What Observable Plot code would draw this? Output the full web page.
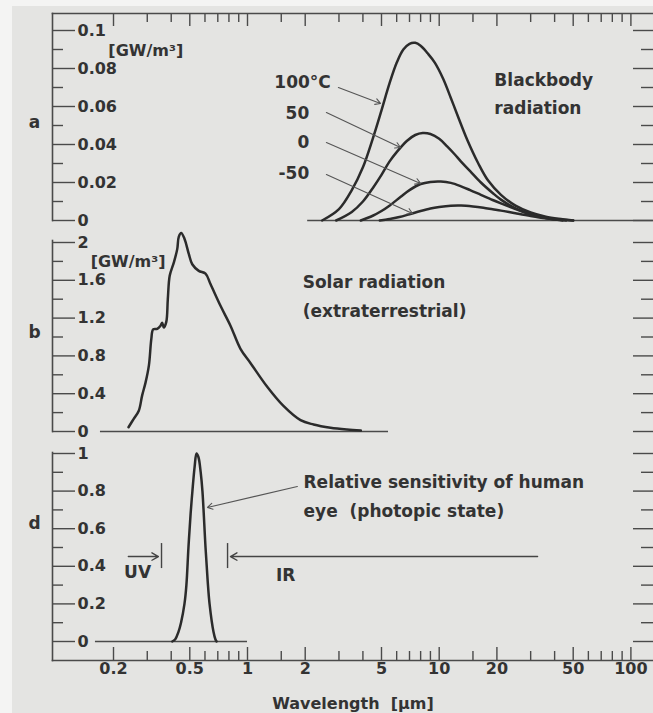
<!DOCTYPE html>
<html>
<head>
<meta charset="utf-8">
<script src="https://cdn.jsdelivr.net/npm/d3@7"></script>
<script src="https://cdn.jsdelivr.net/npm/@observablehq/plot@0.6"></script>
<style>
html, body { margin: 0; padding: 0; background: #f4f4f3; overflow: hidden; width: 653px; height: 713px; }
#fig { position: relative; width: 653px; height: 713px; overflow: hidden; }
#paper { position: absolute; left: 12px; top: 6px; right: 0; bottom: 0; background: #e4e4e2; }
#fig svg { position: absolute; left: 0; }
</style>
</head>
<body>
<div id="fig"><div id="paper"></div></div>
<script>
// ---------- axis ticks ----------
const xMajor = [0.2, 0.5, 1, 2, 5, 10, 20, 50, 100];
const xMajorLabels = ["0.2", "0.5", "1", "2", "5", "10", "20", "50", "100"];
const xMinor = [0.3, 0.4, 0.6, 0.7, 0.8, 0.9, 1.5, 3, 4, 6, 7, 8, 9, 15, 30, 40, 60, 70, 80, 90];

const yMajorA = [0, 0.02, 0.04, 0.06, 0.08, 0.1];
const yLabelsA = ["0", "0.02", "0.04", "0.06", "0.08", "0.1"];
const yMinorA = [0.01, 0.03, 0.05, 0.07, 0.09];

const yMajorB = [0, 0.4, 0.8, 1.2, 1.6, 2];
const yLabelsB = ["0", "0.4", "0.8", "1.2", "1.6", "2"];
const yMinorB = [0.2, 0.6, 1.0, 1.4, 1.8];

const yMajorD = [0, 0.2, 0.4, 0.6, 0.8, 1];
const yLabelsD = ["0", "0.2", "0.4", "0.6", "0.8", "1"];
const yMinorD = [0.1, 0.3, 0.5, 0.7, 0.9];

// ---------- panel a: blackbody radiation [GW/m3] ----------
const bb100X = [2.45, 3.0, 3.5, 4.0, 4.5, 5.0, 5.5, 6.0, 6.5, 7.0, 7.5, 8.0, 8.7, 9.5, 10.5, 11.5, 12.5, 14, 16, 18, 21, 25, 30, 36, 44, 50];
const bb100Y = [0, 0.006, 0.016, 0.028, 0.043, 0.058, 0.072, 0.083, 0.090, 0.093, 0.0935, 0.092, 0.088, 0.083, 0.0745, 0.0645, 0.055, 0.0425, 0.030, 0.021, 0.0135, 0.0078, 0.0042, 0.002, 0.0007, 0];
const bb50X = [2.9, 3.5, 4.0, 4.5, 5.0, 5.5, 6.0, 6.8, 7.5, 8.2, 9.0, 10, 11, 12, 13, 14.5, 16.5, 19, 21, 25, 30, 36, 44];
const bb50Y = [0, 0.0045, 0.010, 0.017, 0.024, 0.031, 0.036, 0.042, 0.045, 0.046, 0.0455, 0.043, 0.039, 0.035, 0.031, 0.026, 0.020, 0.0145, 0.011, 0.0064, 0.0033, 0.0013, 0];
const bb0X = [3.9, 4.5, 5.0, 5.5, 6.3, 7.0, 8.0, 9.0, 10.2, 11.5, 13, 14.5, 16.5, 19, 21, 25, 30, 36, 46];
const bb0Y = [0, 0.0025, 0.005, 0.0078, 0.0125, 0.016, 0.0192, 0.0203, 0.0205, 0.0198, 0.018, 0.016, 0.0135, 0.0108, 0.009, 0.006, 0.0032, 0.0013, 0];
const bbm50X = [4.9, 5.5, 6.2, 7.0, 8.0, 9.0, 10, 11.5, 13, 15, 17, 19, 21, 25, 30, 36, 42, 50];
const bbm50Y = [0, 0.0008, 0.0018, 0.0033, 0.0050, 0.0063, 0.0071, 0.0078, 0.0079, 0.0074, 0.0067, 0.0059, 0.0052, 0.0038, 0.0024, 0.0012, 0.0005, 0];

const tempLabelTop = ["100°C"];
const tempLabelTopX = [1.38], tempLabelTopY = [0.0726];
const tempLabels = ["50", "0", "-50"];
const tempLabelX = [2.1, 2.1, 2.1];
const tempLabelY = [0.0563, 0.041, 0.0247];
const tempArrowX1 = [2.98, 2.58, 2.58, 2.58];
const tempArrowY1 = [0.070, 0.0568, 0.041, 0.0242];
const tempArrowX2 = [4.94, 6.28, 7.99, 7.26];
const tempArrowY2 = [0.0616, 0.0384, 0.0195, 0.0037];
const titleA = ["Blackbody", "radiation"];
const titleAX = [19.4, 19.4];
const titleAY = [0.0737, 0.0589];
const unitAX = [0.188], unitAY = [0.0895];
const baseAX = [2.06, 131];

// ---------- panel b: solar radiation [GW/m3] ----------
const solarX = [0.2395, 0.255, 0.271, 0.282, 0.294, 0.306, 0.315, 0.322, 0.338, 0.352, 0.359, 0.366, 0.377, 0.384, 0.393, 0.413, 0.43, 0.438, 0.451, 0.469, 0.494, 0.515, 0.557, 0.604, 0.641, 0.723, 0.815, 0.919, 1.04, 1.27, 1.54, 1.89, 2.21, 2.71, 3.3, 3.9];
const solarY = [0.045, 0.134, 0.22, 0.38, 0.52, 0.70, 0.98, 1.08, 1.087, 1.12, 1.15, 1.10, 1.16, 1.40, 1.65, 1.79, 1.93, 2.06, 2.10, 2.04, 1.88, 1.77, 1.70, 1.67, 1.56, 1.33, 1.12, 0.875, 0.72, 0.47, 0.27, 0.12, 0.074, 0.039, 0.02, 0.01];
const titleB = ["Solar radiation", "(extraterrestrial)"];
const titleBX = [1.94, 1.94];
const titleBY = [1.577, 1.27];
const unitBX = [0.152], unitBY = [1.79];
const baseBX = [0.171, 5.44];

// ---------- panel d: relative eye sensitivity ----------
const eyeX = [0.405, 0.42, 0.436, 0.45, 0.469, 0.48, 0.492, 0.505, 0.516, 0.53, 0.542, 0.555, 0.57, 0.582, 0.604, 0.62, 0.634, 0.665, 0.68, 0.69];
const eyeY = [0, 0.012, 0.05, 0.1, 0.2, 0.3, 0.5, 0.68, 0.8, 0.93, 1.0, 0.98, 0.9, 0.8, 0.5, 0.32, 0.2, 0.05, 0.012, 0];
const titleD = ["Relative sensitivity of human", "eye  (photopic state)"];
const titleDX = [1.96, 1.96];
const titleDY = [0.846, 0.691];
const eyeArrowX = [1.82, 0.618], eyeArrowY = [0.824, 0.713];
const bandLabels = ["UV", "IR"];
const bandLabelX = [0.267, 1.58];
const bandLabelY = [0.367, 0.351];
const bandArrowX1 = [0.239, 32.6];
const bandArrowX2 = [0.343, 0.815];
const bandArrowY = [0.452, 0.452];
const bandBarX = [0.356, 0.787];
const bandBarY1 = [0.388, 0.388], bandBarY2 = [0.521, 0.521];
const baseDX = [0.161, 1.0];

const panelLetters = ["a", "b", "d"];
const panelLetterY = [0.0516, 1.05, 0.628];
const axisTitle = ["Wavelength  [µm]"];

// ---------- styles ----------
const ink = "#333333";
const axisInk = "#4a4a4a";
const curveInk = "#2b2b2b";
const FONT = "DejaVu Sans";
const W = 653, ML = 52, MR = 0, FW = W - ML - MR;
const X = {type: "log", domain: [0.1, 100], range: [55.3, 630.4], axis: null};
const common = {
  width: W, marginLeft: ML, marginRight: MR,
  style: {background: "transparent", overflow: "visible", fontFamily: FONT, fontWeight: "bold", fontSize: "16px", color: ink}
};
const tk = {stroke: axisInk, strokeWidth: 1.4};

function yFrame(major, minor, labels) {
  return [
    Plot.frame({anchor: "left", stroke: axisInk, strokeWidth: 1.6}),
    Plot.tickY(major, {y: d => d, insetRight: FW - 23, ...tk}),
    Plot.tickY(minor, {y: d => d, insetRight: FW - 11, ...tk}),
    Plot.tickY(major, {y: d => d, insetLeft: FW - 20, ...tk}),
    Plot.tickY(minor, {y: d => d, insetLeft: FW - 12, ...tk}),
    Plot.text(major, {y: d => d, text: (d, i) => labels[i], frameAnchor: "left", dx: 25, textAnchor: "start", fontSize: 16, fontWeight: "bold", fill: ink})
  ];
}
function letter(i) {
  return Plot.text([panelLetters[i]], {y: [panelLetterY[i]], text: d => d, frameAnchor: "left", dx: -18, textAnchor: "middle", fontSize: 17, fontWeight: "bold", fill: ink});
}
function curve(xs, ys) {
  return Plot.line(ys, {x: xs, y: ys, curve: "catmull-rom", stroke: curveInk, strokeWidth: 2.5});
}
function texts(t, xs, ys, anchor, size) {
  return Plot.text(t, {x: xs, y: ys, text: d => d, textAnchor: anchor, fontSize: size, fontWeight: "bold", fill: ink});
}
const fig = document.getElementById("fig");

// ---------- panel a ----------
const HA = 222, MTA = 13, MBA = 2, FHA = HA - MTA - MBA;
const plotA = Plot.plot({
  ...common, height: HA, marginTop: MTA, marginBottom: MBA,
  x: X, y: {domain: [0, 0.1], range: [220, 30], axis: null},
  marks: [
    Plot.frame({anchor: "top", stroke: axisInk, strokeWidth: 1.6}),
    Plot.tickX(xMajor, {x: d => d, insetBottom: FHA - 13, ...tk}),
    Plot.tickX(xMinor, {x: d => d, insetBottom: FHA - 9, ...tk}),
    ...yFrame(yMajorA, yMinorA, yLabelsA),
    letter(0),
    Plot.ruleY([0], {x1: baseAX[0], x2: baseAX[1], stroke: axisInk, strokeWidth: 1.6}),
    curve(bb100X, bb100Y), curve(bb50X, bb50Y), curve(bb0X, bb0Y), curve(bbm50X, bbm50Y),
    Plot.arrow(tempArrowX1, {x1: tempArrowX1, y1: tempArrowY1, x2: tempArrowX2, y2: tempArrowY2, stroke: "#555", strokeWidth: 1.1, headLength: 8}),
    texts(tempLabelTop, tempLabelTopX, tempLabelTopY, "start", 17),
    texts(tempLabels, tempLabelX, tempLabelY, "end", 17),
    texts(titleA, titleAX, titleAY, "start", 17),
    texts(["[GW/m³]"], unitAX, unitAY, "start", 16)
  ]
});
plotA.style.top = "0px";
fig.appendChild(plotA);

// ---------- panel b ----------
const plotB = Plot.plot({
  ...common, height: 213, marginTop: 18, marginBottom: 4,
  x: X, y: {domain: [0, 2], range: [209, 20], axis: null},
  marks: [
    ...yFrame(yMajorB, yMinorB, yLabelsB),
    letter(1),
    Plot.ruleY([0], {x1: baseBX[0], x2: baseBX[1], stroke: axisInk, strokeWidth: 1.6}),
    curve(solarX, solarY),
    texts(titleB, titleBX, titleBY, "start", 17),
    texts(["[GW/m³]"], unitBX, unitBY, "start", 16)
  ]
});
plotB.style.top = "222px";
fig.appendChild(plotB);

// ---------- panel d ----------
const HD = 278, MTD = 17, MBD = 53, FHD = HD - MTD - MBD;
const plotD = Plot.plot({
  ...common, height: HD, marginTop: MTD, marginBottom: MBD,
  x: X, y: {domain: [0, 1], range: [206, 18], axis: null},
  marks: [
    ...yFrame(yMajorD, yMinorD, yLabelsD),
    letter(2),
    Plot.frame({anchor: "bottom", stroke: axisInk, strokeWidth: 1.6}),
    Plot.tickX(xMajor, {x: d => d, insetTop: FHD - 13, ...tk}),
    Plot.tickX(xMinor, {x: d => d, insetTop: FHD - 9, ...tk}),
    Plot.text(xMajor, {x: d => d, text: (d, i) => xMajorLabels[i], frameAnchor: "bottom", dy: 13, fontSize: 16, fontWeight: "bold", fill: ink}),
    Plot.text(axisTitle, {frameAnchor: "bottom", dy: 48, lineAnchor: "bottom", fontSize: 16, fontWeight: "bold", fill: ink, text: d => d}),
    Plot.ruleY([0], {x1: baseDX[0], x2: baseDX[1], stroke: axisInk, strokeWidth: 1.6}),
    curve(eyeX, eyeY),
    Plot.arrow([0], {x1: [eyeArrowX[0]], y1: [eyeArrowY[0]], x2: [eyeArrowX[1]], y2: [eyeArrowY[1]], stroke: "#555", strokeWidth: 1.1, headLength: 8}),
    Plot.arrow(bandArrowX1, {x1: bandArrowX1, x2: bandArrowX2, y1: bandArrowY, y2: bandArrowY, stroke: "#444", strokeWidth: 1.4, headLength: 8}),
    Plot.ruleX(bandBarX, {x: bandBarX, y1: bandBarY1, y2: bandBarY2, stroke: "#444", strokeWidth: 1.4}),
    texts(bandLabels, bandLabelX, bandLabelY, "middle", 17),
    texts(titleD, titleDX, titleDY, "start", 17)
  ]
});
plotD.style.top = "435px";
fig.appendChild(plotD);
</script>
</body>
</html>
